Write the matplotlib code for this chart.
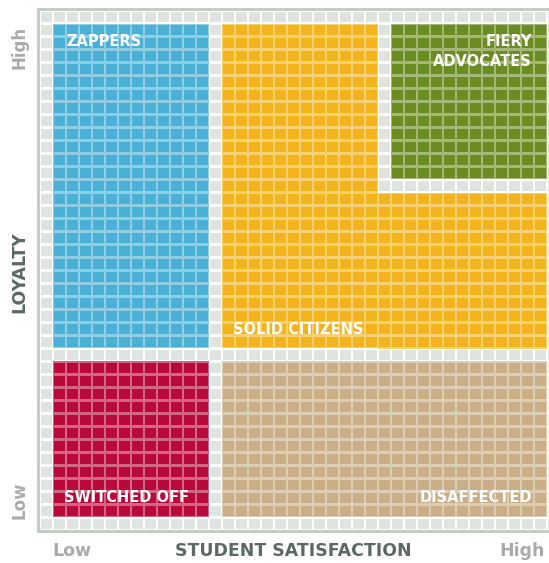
#!/usr/bin/env python3

import numpy as np
from matplotlib import pyplot as plt, colors as mcolors
from matplotlib.patches import Rectangle
from matplotlib.collections import PatchCollection

############## DATA ################

# grid of cells, 40 x 40 (the right-most column is cut off by the image edge)
n_cols, n_rows = 40, 40

# segments: name, first col, end col, first row, end row (rows counted from the top)
seg_names = ['ZAPPERS', 'SOLID CITIZENS', 'SOLID CITIZENS', 'FIERY\nADVOCATES',
             'SWITCHED OFF', 'DISAFFECTED']
seg_col0 = [1, 14, 26, 27, 1, 14]
seg_col1 = [13, 26, 39, 39, 13, 39]
seg_row0 = [1, 1, 14, 1, 27, 27]
seg_row1 = [26, 26, 26, 13, 39, 39]
seg_colors = ['#4bb0d5', '#f2b31c', '#f2b31c', '#6b8c23', '#b8093a', '#caae87']

x_labels = ['Low', 'High']
y_labels = ['Low', 'High']
x_title = 'STUDENT SATISFACTION'
y_title = 'LOYALTY'

####################################

empty_color = '#dfe4e1'
frame_color = '#c5ccc6'
W, H = 549, 563
px = 13.0          # cell pitch in pixels
x0_px, y0_px = 40.0, 10.5
frame_px = 3.0


def tint(c, amount=0.38):
    r, g, b = mcolors.to_rgb(c)
    return (r + (1 - r) * amount, g + (1 - g) * amount, b + (1 - b) * amount)


# colour map per cell
cell_color = np.empty((n_rows, n_cols), dtype=object)
cell_color[:, :] = empty_color
for c0, c1, r0, r1, col in zip(seg_col0, seg_col1, seg_row0, seg_row1, seg_colors):
    cell_color[r0:r1, c0:c1] = col

fig = plt.figure(figsize=(W / 100, H / 100), dpi=100)
left = (x0_px - frame_px) / W
bottom = (H - (y0_px + n_rows * px + frame_px)) / H
ax = fig.add_axes([left, bottom, 1 - left, (n_rows * px + 2 * frame_px) / H])
fr = frame_px / px
ax.set_xlim(-fr, (W - x0_px) / px)
ax.set_ylim(n_rows + fr, -fr)
ax.axis('off')

# frame, then white base inside it
ax.add_patch(Rectangle((-fr, -fr), n_cols + 2 * fr, n_rows + 2 * fr,
                       facecolor=frame_color, edgecolor='none'))
ax.add_patch(Rectangle((0, 0), n_cols, n_rows, facecolor='white', edgecolor='none'))

# tinted base for coloured segments (gives the lighter grid lines)
for c0, c1, r0, r1, col in zip(seg_col0, seg_col1, seg_row0, seg_row1, seg_colors):
    ax.add_patch(Rectangle((c0, r0), c1 - c0, r1 - r0, facecolor=tint(col),
                           edgecolor='none'))

inset = 0.11
cells = []
fcs = []
for r in range(n_rows):
    for c in range(n_cols):
        cells.append(Rectangle((c + inset, r + inset), 1 - 2 * inset, 1 - 2 * inset))
        fcs.append(cell_color[r, c])
ax.add_collection(PatchCollection(cells, facecolors=fcs, edgecolors='none'))

# segment labels
font = dict(color='white', fontweight='bold', fontsize=10.5, family='DejaVu Sans')
ax.text(seg_col0[0] + 1.0, seg_row0[0] + 1.42, seg_names[0], ha='left', va='center', **font)
ax.text(seg_col0[1] + 0.85, seg_row1[1] - 1.45, seg_names[1], ha='left', va='center', **font)
ax.text(seg_col1[3] - 1.15, seg_row0[3] + 2.15, seg_names[3], ha='right', va='center',
        linespacing=1.45, **font)
ax.text(seg_col0[4] + 0.85, seg_row1[4] - 1.5, seg_names[4], ha='left', va='center', **font)
ax.text(seg_col1[5] - 1.15, seg_row1[5] - 1.5, seg_names[5], ha='right', va='center', **font)

# axis labels
grey = '#a8aca8'
dark = '#5c6963'
fig.text(72 / W, 1 - 551 / H, x_labels[0], ha='center', va='center', color=grey,
         fontweight='bold', fontsize=12.5)
fig.text(522 / W, 1 - 551 / H, x_labels[1], ha='center', va='center', color=grey,
         fontweight='bold', fontsize=12.5)
fig.text(293 / W, 1 - 551 / H, x_title, ha='center', va='center', color=dark,
         fontweight='bold', fontsize=12.5)
fig.text(20 / W, 1 - 500 / H, y_labels[0], ha='center', va='center', color=grey,
         fontweight='bold', fontsize=12, rotation=90)
fig.text(20 / W, 1 - 47 / H, y_labels[1], ha='center', va='center', color=grey,
         fontweight='bold', fontsize=12, rotation=90)
fig.text(19 / W, 1 - 272 / H, y_title, ha='center', va='center', color=dark,
         fontweight='bold', fontsize=12.5, rotation=90)

plt.savefig('out.png', dpi=100)
plt.close()
